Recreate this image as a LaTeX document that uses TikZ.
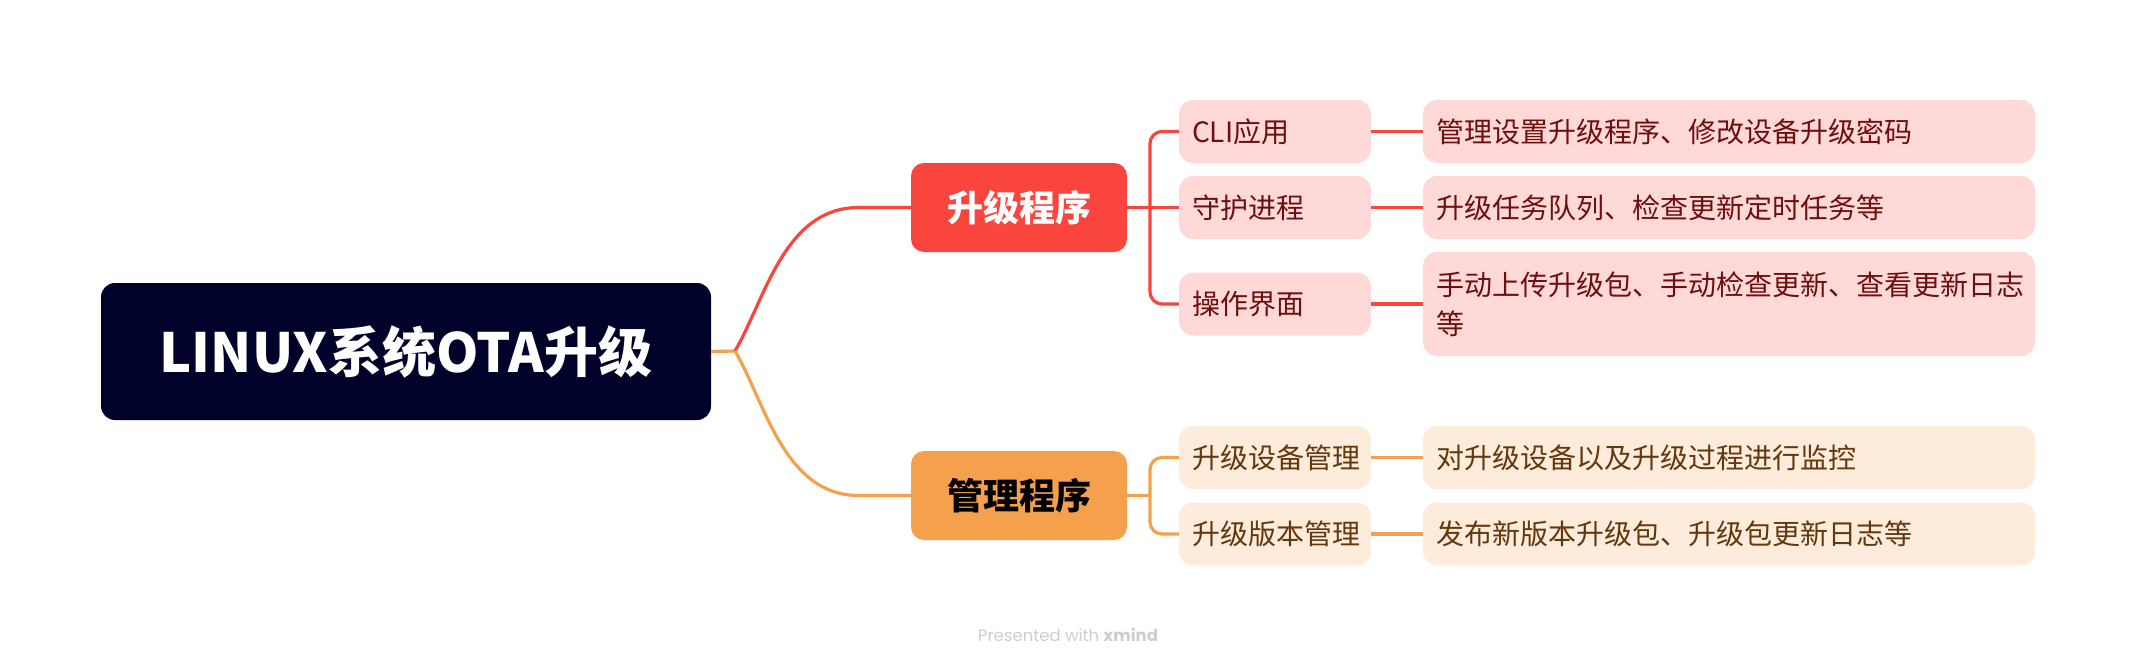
\documentclass[tikz,border=0pt]{standalone}
\usepackage{fontspec}
\setmainfont{Noto Sans CJK SC}
\newfontfamily\wmfont{Poppins}
\usetikzlibrary{calc}
\definecolor{rootc}{HTML}{000229}
\definecolor{redc}{HTML}{F9453D}
\definecolor{orgc}{HTML}{F5A04D}
\definecolor{redfill}{HTML}{FFD9D8}
\definecolor{orgfill}{HTML}{FDEBDC}
\definecolor{redtxt}{HTML}{6E0E0E}
\definecolor{orgtxt}{HTML}{62380C}
\definecolor{wmc}{HTML}{CDCDCD}
\tikzset{
  rootbox/.style={rectangle, rounded corners=14pt, fill=rootc, text=white, minimum width=610pt, minimum height=137pt, inner sep=0pt, font=\fontsize{54}{60}\selectfont\bfseries},
  mainbox/.style={rectangle, rounded corners=13pt, minimum width=216pt, minimum height=89pt, inner sep=0pt, font=\fontsize{36}{42}\selectfont\bfseries},
  childbox/.style={rectangle, rounded corners=14pt, minimum width=192pt, minimum height=63pt, inner xsep=13pt, inner ysep=0pt, text width=166pt, align=left, font=\fontsize{28}{36}\selectfont},
  leafbox/.style={rectangle, rounded corners=14pt, minimum width=612pt, minimum height=63pt, inner xsep=13pt, inner ysep=0pt, text width=586pt, align=left, font=\fontsize{28}{39}\selectfont},
  redln/.style={draw=redc, line width=3.2pt},
  orgln/.style={draw=orgc, line width=3.2pt},
}
\begin{document}
\begin{tikzpicture}[x=1pt,y=-1pt]
\useasboundingbox (0,0) rectangle (2136,666);
% nodes
\node[rootbox] (root) at (406,351.5) {LINUX系统OTA升级};
\node[mainbox, fill=redc, text=white] (m1) at (1019,207.5) {升级程序};
\node[mainbox, fill=orgc, text=black] (m2) at (1019,495.5) {管理程序};
\node[childbox, fill=redfill, text=redtxt] (c1) at (1275,131.5) {CLI应用};
\node[childbox, fill=redfill, text=redtxt] (c2) at (1275,207.5) {守护进程};
\node[childbox, fill=redfill, text=redtxt] (c3) at (1275,304) {操作界面};
\node[childbox, fill=orgfill, text=orgtxt] (c4) at (1275,457.5) {升级设备管理};
\node[childbox, fill=orgfill, text=orgtxt] (c5) at (1275,534) {升级版本管理};
\node[leafbox, fill=redfill, text=redtxt] (l1) at (1729,131.5) {管理设置升级程序、修改设备升级密码};
\node[leafbox, fill=redfill, text=redtxt] (l2) at (1729,207.5) {升级任务队列、检查更新定时任务等};
\node[leafbox, fill=redfill, text=redtxt, minimum height=104pt] (l3) at (1729,304) {手动上传升级包、手动检查更新、查看更新日志\\等};
\node[leafbox, fill=orgfill, text=orgtxt] (l4) at (1729,457.5) {对升级设备以及升级过程进行监控};
\node[leafbox, fill=orgfill, text=orgtxt] (l5) at (1729,534) {发布新版本升级包、升级包更新日志等};
\node[font=\wmfont\fontsize{16.5}{18}\selectfont, text=wmc] (wm) at (1068,635) {Presented with \textbf{xmind}};
% connectors
\coordinate (J) at (735,351);
\coordinate (V) at (1150,351);
\draw[orgln] (root.east) -- (J);
\draw[redln] (J) .. controls +(30,-51) and +(-75,0) .. ($(m1.west)+(-52,0)$) -- (m1.west);
\draw[orgln] (J) .. controls +(30,51) and +(-75,0) .. ($(m2.west)+(-52,0)$) -- (m2.west);
\draw[redln] (m1.east) -- (c2.west);
\draw[redln, rounded corners=12pt] (c1.west) -- (V |- c1.west) -- (V |- c3.west) -- (c3.west);
\draw[orgln] (m2.east) -- (V |- m2.east);
\draw[orgln, rounded corners=12pt] (c4.west) -- (V |- c4.west) -- (V |- c5.west) -- (c5.west);
\draw[redln] (c1.east) -- (l1.west);
\draw[redln] (c2.east) -- (l2.west);
\draw[redln] (c3.east) -- (l3.west);
\draw[orgln] (c4.east) -- (l4.west);
\draw[orgln] (c5.east) -- (l5.west);
\end{tikzpicture}
\end{document}
